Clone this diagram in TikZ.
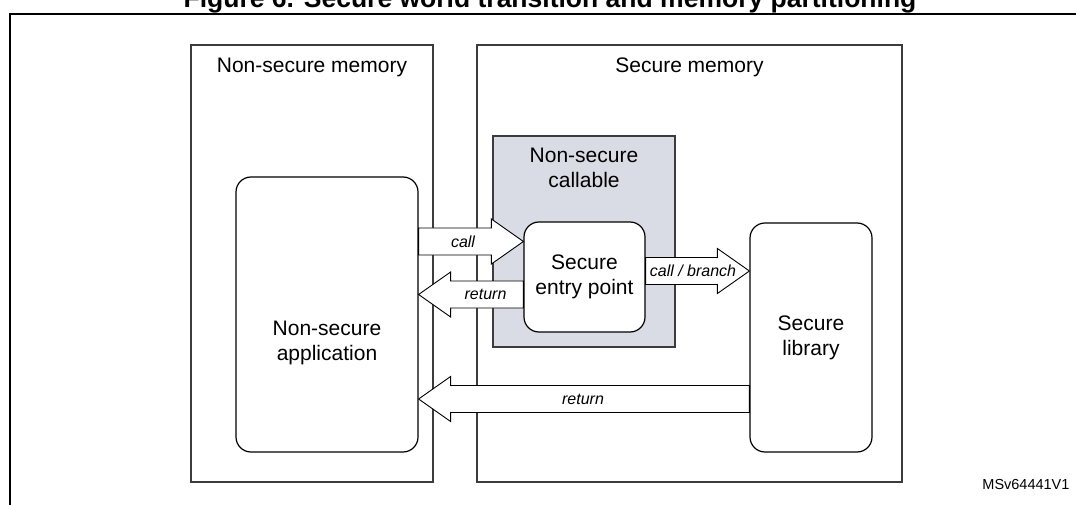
\documentclass[tikz,border=0pt]{standalone}
\usepackage{fontspec}
\setmainfont{Liberation Sans}
\usetikzlibrary{calc}
\definecolor{nscfill}{RGB}{217,220,228}
\definecolor{boxline}{RGB}{60,60,60}
\tikzset{
  memregion/.style={draw=boxline,line width=1.1pt,inner sep=0pt},
  rbox/.style={draw=black,line width=1.2pt,rounded corners=15pt,fill=white,inner sep=0pt,align=center,
    font=\fontsize{21}{25}\selectfont},
  biglabel/.style={font=\fontsize{21}{25}\selectfont,align=center,anchor=base},
  arrlabel/.style={font=\fontsize{16}{18}\selectfont\itshape},
  blk/.style={draw=black,line width=0.9pt,fill=white,line join=miter},
}
% block arrow: #1 tail point, #2 tip point (same height)
\newcommand\blockarr[2]{%
  \draw[blk] let \p1=(#1), \p2=(#2), \n1={ifthenelse(\x2>\x1,1,-1)} in
    (\x1,\y1+13.5pt) -- (\x2-\n1*32pt,\y1+13.5pt) -- (\x2-\n1*32pt,\y1+22.5pt) --
    (\x2,\y1) -- (\x2-\n1*32pt,\y1-22.5pt) -- (\x2-\n1*32pt,\y1-13.5pt) -- (\x1,\y1-13.5pt) -- cycle;}
\begin{document}
\begin{tikzpicture}[x=1pt,y=-1pt]
\useasboundingbox (0,0) rectangle (1076,505);
% title and frame
\node[font=\fontsize{26.5}{30}\selectfont\bfseries,anchor=base] (title) at (550,8) {Figure 6. Secure world transition and memory partitioning};
\draw[line width=2pt] (10,505) -- (10,14) -- (1076,14);
% memory regions
\node[memregion,minimum width=242pt,minimum height=437pt] (nsmem) at (312,263.5) {};
\node[memregion,minimum width=425pt,minimum height=437pt] (smem) at (689.5,263.5) {};
\node[biglabel] (nsmemlbl) at (312,73) {Non-secure memory};
\node[biglabel] (smemlbl) at (689.5,73) {Secure memory};
% non-secure callable region
\node[memregion,fill=nscfill,minimum width=182pt,minimum height=211pt] (nsc) at (584,241.5) {};
\node[biglabel] (nsclbl) at (584,187.5) {Non-secure\\callable};
% rounded boxes
\node[rbox,minimum width=182pt,minimum height=275pt] (nsapp) at (327,314.5) {};
\node[biglabel] (nsapplbl) at (327,360) {Non-secure\\application};
\node[rbox,minimum width=121pt,minimum height=110pt] (sep) at (584.5,277) {Secure\\entry point};
\node[rbox,minimum width=122pt,minimum height=229pt] (slib) at (811,337.5) {Secure\\library};
% level coordinates for arrows
\coordinate (ycall) at (0,241.5);
\coordinate (yret1) at (0,294.5);
\coordinate (ybr) at (0,271);
\coordinate (yret2) at (0,399);
% block arrows
\blockarr{nsapp.east |- ycall}{sep.west |- ycall}
\blockarr{sep.west |- yret1}{nsapp.east |- yret1}
\blockarr{sep.east |- ybr}{slib.west |- ybr}
\blockarr{slib.west |- yret2}{nsapp.east |- yret2}
\node[arrlabel] (lcall) at (463,241.5) {call};
\node[arrlabel] (lret1) at (485.5,294.5) {return};
\node[arrlabel] (lbr) at (693,271) {call / branch};
\node[arrlabel] (lret2) at (583,399) {return};
% reference id
\node[font=\fontsize{14.5}{16}\selectfont,anchor=base east] (ref) at (1073,489) {MSv64441V1};
\end{tikzpicture}
\end{document}
